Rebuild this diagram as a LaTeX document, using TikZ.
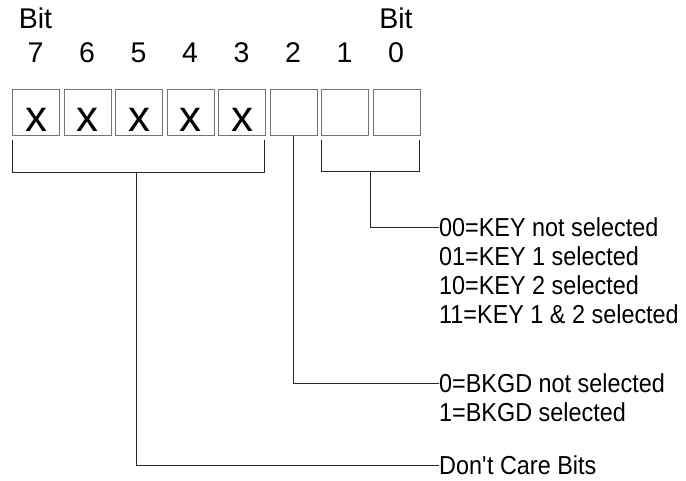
\documentclass[tikz,border=0pt]{standalone}
\usepackage{fontspec}
\setmainfont{Liberation Sans}
\newfontfamily\narrowfont[FakeStretch=0.9]{Liberation Sans}
\begin{document}
\begin{tikzpicture}[x=1pt,y=-1pt,
  bitbox/.style={draw=black!55,line width=1pt,minimum width=47pt,minimum height=46pt,inner sep=0pt,anchor=north west},
  xmark/.style={font=\fontsize{44}{44}\selectfont,inner sep=0pt,anchor=base},
  lbl/.style={font=\fontsize{28.5}{30}\selectfont,inner sep=0pt},
  desc/.style={font=\narrowfont\fontsize{26}{29}\selectfont,inner sep=0pt,anchor=west},
  conn/.style={draw=black!85,line width=0.9pt}]
\useasboundingbox (0,0) rectangle (686,481);
\foreach \b/\x in {7/12,6/63.5,5/115,4/166.5,3/218,2/269.5,1/321,0/372.5}{
  \node[bitbox] (b\b) at (\x,89) {};
  \node[lbl] (n\b) at (\x+23.5,52.5) {\b};
}
\foreach \b in {7,6,5,4,3}{
  \node[xmark] (x\b) at ([yshift=-19pt]b\b.center) {x};
}
\node[lbl] (bitl) at (35.5,18.5) {Bit};
\node[lbl] (bitr) at (396,18.5) {Bit};
% brackets
\coordinate (l1) at (12,140); \coordinate (l2) at (12,172);
\coordinate (l3) at (264,172); \coordinate (l4) at (264,140);
\coordinate (lm) at (136,172);
\draw[conn] (l1) -- (l2) -- (l3) -- (l4);
\coordinate (r1) at (321,140); \coordinate (r2) at (321,171);
\coordinate (r3) at (419.5,171); \coordinate (r4) at (419.5,140);
\coordinate (rm) at (370,171);
\draw[conn] (r1) -- (r2) -- (r3) -- (r4);
% texts
\node[desc] (k0) at (439,227) {00=KEY not selected};
\node[desc] (k1) at (439,256) {01=KEY 1 selected};
\node[desc] (k2) at (439,285) {10=KEY 2 selected};
\node[desc] (k3) at (439,314) {11=KEY 1 \& 2 selected};
\node[desc] (g0) at (439,383) {0=BKGD not selected};
\node[desc] (g1) at (439,412) {1=BKGD selected};
\node[desc] (dc) at (439,465) {Don\textquotesingle t Care Bits};
% connectors
\draw[conn] (rm) |- (k0.west);
\draw[conn] (b2.south) |- (g0.west);
\draw[conn] (lm) |- (dc.west);
\end{tikzpicture}
\end{document}
